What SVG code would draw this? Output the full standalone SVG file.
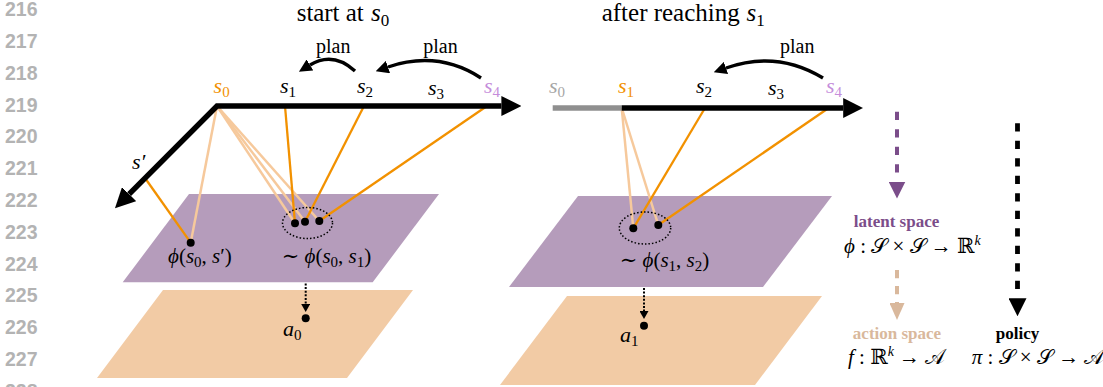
<svg xmlns="http://www.w3.org/2000/svg" width="1103" height="387" viewBox="0 0 1103 387">
<defs>
<style>
.ln{font-family:"Liberation Sans",Arial,sans-serif;font-weight:bold;font-size:19.5px;fill:#b3b3b3}
.tx{font-family:"Liberation Serif","DejaVu Serif",serif;fill:#000}
.title{font-size:25px}
.plan{font-size:20px}
.m{font-family:"Liberation Serif","DejaVu Serif",serif;font-style:italic;font-size:22px;fill:#000}
.mm{font-family:"Liberation Serif","DejaVu Serif",serif;font-style:italic;font-size:21px;fill:#000}
.up{font-style:normal}
.sub{font-style:normal;font-size:15px}
.lbl{font-family:"Liberation Serif","DejaVu Serif",serif;font-weight:bold;font-size:17px}
.purple{fill:#b59cbb}
.peach{fill:#f2cba5}
.or{stroke:#f29100;stroke-width:2.3;fill:none}
.lt{stroke:#f6c99c;stroke-width:2.5;fill:none}
.dot{fill:#000}
.ell{fill:none;stroke:#000;stroke-width:1.5;stroke-dasharray:1.5 2}
.ax{fill:none;stroke:#000;stroke-width:5.5;stroke-linejoin:miter}
.arc{fill:none;stroke:#000;stroke-width:3.4}
.dt{fill:none;stroke:#000;stroke-width:2;stroke-dasharray:2 1.6}
</style>
<marker id="hd" markerUnits="userSpaceOnUse" viewBox="0 0 20 20" refX="0" refY="10" markerWidth="20" markerHeight="20" orient="auto-start-reverse"><path d="M0,0 L20,10 L0,20 z" fill="#000"/></marker>
<marker id="hs" markerUnits="userSpaceOnUse" viewBox="0 0 13 13" refX="0" refY="6.5" markerWidth="13" markerHeight="13" orient="auto"><path d="M0,0 L13,6.5 L0,13 z" fill="#000"/></marker>
<marker id="hdot" markerUnits="userSpaceOnUse" viewBox="0 0 8 9" refX="0" refY="4.5" markerWidth="8" markerHeight="9" orient="auto"><path d="M0,0 L8,4.5 L0,9 z" fill="#000"/></marker>
<marker id="hp" markerUnits="userSpaceOnUse" viewBox="0 0 17 17" refX="0" refY="8.5" markerWidth="17" markerHeight="17" orient="auto"><path d="M0,0 L17,8.5 L0,17 z" fill="#7b4d8a"/></marker>
<marker id="hq" markerUnits="userSpaceOnUse" viewBox="0 0 17 15" refX="0" refY="7.5" markerWidth="17" markerHeight="15" orient="auto"><path d="M0,0 L17,7.5 L0,15 z" fill="#d9b89c"/></marker>
<marker id="hk" markerUnits="userSpaceOnUse" viewBox="0 0 18 18" refX="0" refY="9" markerWidth="18" markerHeight="18" orient="auto"><path d="M0,0 L18,9 L0,18 z" fill="#000"/></marker>
</defs>

<g id="line-numbers" class="ln">
<text x="5" y="16.2">216</text>
<text x="5" y="48">217</text>
<text x="5" y="79.8">218</text>
<text x="5" y="111.6">219</text>
<text x="5" y="143.4">220</text>
<text x="5" y="175.2">221</text>
<text x="5" y="207">222</text>
<text x="5" y="238.8">223</text>
<text x="5" y="270.6">224</text>
<text x="5" y="302.4">225</text>
<text x="5" y="334.2">226</text>
<text x="5" y="366">227</text>
<text x="5" y="397.8">228</text>
</g>

<g id="titles">
<text class="tx title" x="296.7" y="20.7" textLength="67" lengthAdjust="spacing">start at</text>
<text class="m" x="371" y="20.7" style="font-size:25px">s<tspan class="sub" dy="5" style="font-size:17px">0</tspan></text>
<text class="tx title" x="601.7" y="20.7" textLength="138" lengthAdjust="spacing">after reaching</text>
<text class="m" x="746.5" y="20.7" style="font-size:25px">s<tspan class="sub" dy="5" style="font-size:17px">1</tspan></text>
</g>

<g id="planes">
<polygon id="latent-left" class="purple" points="189,194 439,194 372.7,282.3 122.7,282.3"/>
<polygon id="action-left" class="peach" points="163,290 413,290 347,378 97,378"/>
<polygon id="latent-right" class="purple" points="578,196 832,196 763,287 509,287"/>
<polygon id="action-right" class="peach" points="567,296 822,296 755,385 500,385"/>
</g>

<g id="connectors">
<line class="lt" x1="217" y1="106" x2="190.7" y2="242.7"/>
<line class="lt" x1="217" y1="106" x2="295" y2="223.3"/>
<line class="lt" x1="217" y1="106" x2="305" y2="221.7"/>
<line class="lt" x1="217" y1="106" x2="319.3" y2="221"/>
<line class="or" x1="145" y1="178" x2="190.7" y2="242.7"/>
<line class="or" x1="285" y1="106" x2="295" y2="223.3"/>
<line class="or" x1="364" y1="106" x2="305" y2="221.7"/>
<line class="or" x1="487" y1="106" x2="319.3" y2="221"/>
<line class="lt" x1="621.7" y1="108" x2="633.3" y2="228.3"/>
<line class="lt" x1="621.7" y1="108" x2="658.3" y2="225"/>
<line class="or" x1="705" y1="108" x2="633.3" y2="228.3"/>
<line class="or" x1="828.6" y1="108" x2="658.3" y2="225"/>
<path class="ax" d="M129.1,194.1 L217,106 L501.4,106" marker-start="url(#hd)" marker-end="url(#hd)"/>
<line x1="552.7" y1="108" x2="621.7" y2="108" stroke="#8f8f8f" stroke-width="5.5"/>
<line class="ax" x1="621.7" y1="108" x2="843.2" y2="108" marker-end="url(#hd)"/>
<path class="arc" d="M355,71 Q333,51 310,65" marker-end="url(#hs)"/>
<path class="arc" d="M481,78 Q438,50 388,67" marker-end="url(#hs)"/>
<path class="arc" d="M823,78 Q777,50 726,68" marker-end="url(#hs)"/>
<line class="dt" x1="305.7" y1="283.5" x2="305.7" y2="304" marker-end="url(#hdot)"/>
<line class="dt" x1="644" y1="288" x2="644" y2="311" marker-end="url(#hdot)"/>
<line x1="897" y1="111.7" x2="897" y2="181.5" stroke="#7b4d8a" stroke-width="4" stroke-dasharray="8.3 9.2" marker-end="url(#hp)"/>
<line x1="897" y1="270" x2="897" y2="303" stroke="#d9b89c" stroke-width="4" stroke-dasharray="8.3 7.7" marker-end="url(#hq)"/>
<line x1="1017.5" y1="123.3" x2="1017.5" y2="298.3" stroke="#000" stroke-width="4.8" stroke-dasharray="8.3 9.2" marker-end="url(#hk)"/>
</g>

<g id="left-latent-points">
<ellipse class="ell" cx="307.5" cy="223" rx="25" ry="15.5"/>
<circle class="dot" cx="190.7" cy="242.7" r="4"/>
<circle class="dot" cx="295" cy="223.3" r="4"/>
<circle class="dot" cx="305" cy="221.7" r="4"/>
<circle class="dot" cx="319.3" cy="221" r="4"/>
<circle class="dot" cx="305.7" cy="318.3" r="4"/>
</g>
<g id="right-latent-points">
<ellipse class="ell" cx="645" cy="228" rx="25.7" ry="16"/>
<circle class="dot" cx="633.3" cy="228.3" r="4"/>
<circle class="dot" cx="658.3" cy="225" r="4"/>
<circle class="dot" cx="644" cy="325.7" r="4"/>
</g>

<g id="axis-labels-left">
<text class="m" x="213.6" y="92.5" style="fill:#f29100">s<tspan class="sub" dy="4">0</tspan></text>
<text class="m" x="280" y="92.5">s<tspan class="sub" dy="4">1</tspan></text>
<text class="m" x="357" y="92.5">s<tspan class="sub" dy="4">2</tspan></text>
<text class="m" x="428" y="95">s<tspan class="sub" dy="4">3</tspan></text>
<text class="m" x="484" y="92.5" style="fill:#c58ddb">s<tspan class="sub" dy="4">4</tspan></text>
<text class="m" x="132" y="169">s′</text>
</g>
<g id="axis-labels-right">
<text class="m" x="549" y="92.5" style="fill:#a6a6a6">s<tspan class="sub" dy="4">0</tspan></text>
<text class="m" x="618" y="92.5" style="fill:#f29100">s<tspan class="sub" dy="4">1</tspan></text>
<text class="m" x="696" y="92.5">s<tspan class="sub" dy="4">2</tspan></text>
<text class="m" x="768" y="95">s<tspan class="sub" dy="4">3</tspan></text>
<text class="m" x="826" y="92.5" style="fill:#c58ddb">s<tspan class="sub" dy="4">4</tspan></text>
</g>

<g id="plan-labels" class="tx plan">
<text x="316" y="53">plan</text>
<text x="423.3" y="53">plan</text>
<text x="780" y="53">plan</text>
</g>

<g id="point-labels">
<text class="mm" x="168" y="263">ϕ<tspan class="up">(</tspan>s<tspan class="sub" dy="4">0</tspan><tspan class="up" dy="-4">, </tspan>s<tspan class="up">′)</tspan></text>
<text class="mm" x="281.7" y="263"><tspan class="up">∼ </tspan>ϕ<tspan class="up">(</tspan>s<tspan class="sub" dy="4">0</tspan><tspan class="up" dy="-4">, </tspan>s<tspan class="sub" dy="4">1</tspan><tspan class="up" dy="-4">)</tspan></text>
<text class="mm" x="619.7" y="267.3"><tspan class="up">∼ </tspan>ϕ<tspan class="up">(</tspan>s<tspan class="sub" dy="4">1</tspan><tspan class="up" dy="-4">, </tspan>s<tspan class="sub" dy="4">2</tspan><tspan class="up" dy="-4">)</tspan></text>
<text class="m" x="283" y="336">a<tspan class="sub" dy="4">0</tspan></text>
<text class="m" x="620" y="342">a<tspan class="sub" dy="4">1</tspan></text>
</g>

<g id="legend">
<text class="lbl" x="896.5" y="226.7" text-anchor="middle" style="fill:#7b4d8a">latent space</text>
<text class="mm" x="844" y="253.3">ϕ<tspan class="up"> : 𝒮 × 𝒮 → ℝ</tspan><tspan dy="-8" style="font-size:14px">k</tspan></text>
<text class="lbl" x="897" y="339.3" text-anchor="middle" style="fill:#d9b89c">action space</text>
<text class="mm" x="848" y="364">f<tspan class="up"> : ℝ</tspan><tspan dy="-8" style="font-size:14px">k</tspan><tspan class="up" dy="8"> → 𝒜</tspan></text>
<text class="lbl" x="1017.5" y="339.3" text-anchor="middle" style="fill:#000">policy</text>
<text class="mm" x="971.7" y="364">π<tspan class="up"> : 𝒮 × 𝒮 → 𝒜</tspan></text>
</g>
</svg>
